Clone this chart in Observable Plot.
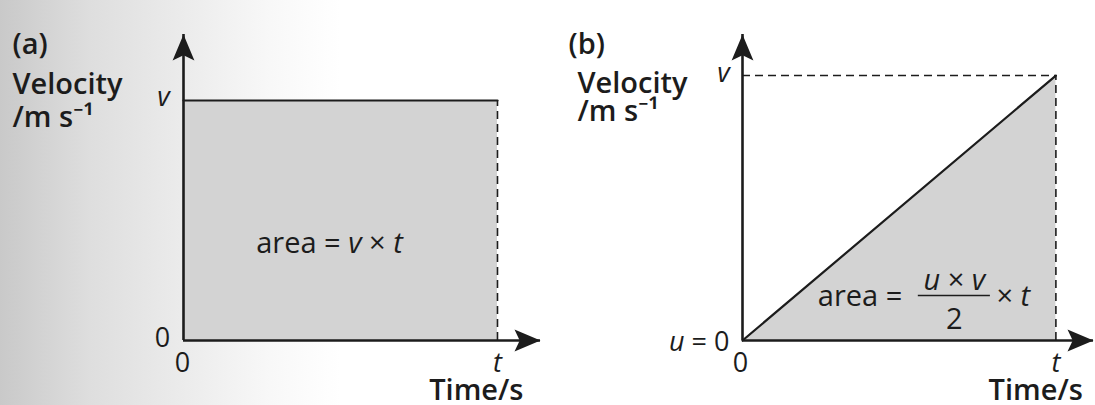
<!DOCTYPE html>
<html>
<head>
<meta charset="utf-8">
<script src="https://cdn.jsdelivr.net/npm/d3@7"></script>
<script src="https://cdn.jsdelivr.net/npm/@observablehq/plot@0.6"></script>
<style>
  html, body { margin: 0; padding: 0; }
  body {
    width: 1095px; height: 405px; overflow: hidden;
    background: linear-gradient(to right, #c9c9c9 0px, #dedede 90px, #ebebeb 180px, #f8f8f8 270px, #ffffff 340px);
  }
  #chart { position: relative; width: 1095px; height: 405px; }
  #chart svg { position: absolute; top: 0; background: transparent; overflow: visible; }
</style>
</head>
<body>
<div id="chart"></div>
<script>
// Panel (a): constant velocity v held from time 0 to t
const timeA = [0, 1];
const velocityA = [1, 1];
// Panel (b): uniform acceleration from u = 0 up to v at time t
const timeB = [0, 1];
const velocityB = [0, 1];
// How far each axis runs (in units of t and v) before its arrowhead
const axisEndA = {time: 1.137, velocity: 1.275};
const axisEndB = {time: 1.12, velocity: 1.155};
// Tick and axis labels (*…* marks italic symbols)
const originLabel = "0";
const timeTick = "*t*";
const velocityTick = "*v*";
const startLabel = "*u* = 0";
const panelLabels = ["(a)", "(b)"];
const yTitle = ["Velocity", "/m s⁻¹"];
const xTitle = "Time/s";
const areaLabelA = "area = *v* × *t*";
const areaLabelB = {before: "area =", numerator: "*u* × *v*", denominator: "2", after: "× *t*"};

const ink = "#1c1c1c";
const shade = "#d3d3d3";
const font = "'Open Sans', 'Noto Sans', sans-serif";
const tickSize = 27;
const titleSize = 29;
const noteSize = 29;

const rowsA = timeA.map((t, i) => ({time: t, velocity: velocityA[i]}));
const rowsB = timeB.map((t, i) => ({time: t, velocity: velocityB[i]}));

// Filled, notched arrowhead with its tip at the origin, pointing up
const arrowHead = {
  draw(context, size) {
    const r = Math.sqrt(size / Math.PI);
    context.moveTo(0, 0);
    context.lineTo(-0.42 * r, r);
    context.lineTo(0, 0.8 * r);
    context.lineTo(0.42 * r, r);
    context.closePath();
  }
};

const txt = (data, o) => Plot.text(data, {fill: ink, fontFamily: font, fontSize: tickSize, ...o});

function axes(end) {
  return [
    Plot.ruleY([0], {x1: 0, x2: end.time, stroke: ink, strokeWidth: 2.6}),
    Plot.ruleX([0], {y1: 0, y2: end.velocity, stroke: ink, strokeWidth: 2.6}),
    Plot.dot([end.time], {x: d => d, y: 0, symbol: arrowHead, r: 26, fill: ink, rotate: 90}),
    Plot.dot([end.velocity], {x: 0, y: d => d, symbol: arrowHead, r: 26, fill: ink})
  ];
}

function titles(label, offsets) {
  const [p, v, u] = offsets;
  const bold = {frameAnchor: "top-left", textAnchor: "start", fontSize: titleSize, fontWeight: 600, lineHeight: 1};
  return [
    txt([label], {...bold, text: d => d, dx: p[0], dy: p[1]}),
    txt([yTitle[0]], {...bold, text: d => d, dx: v[0], dy: v[1]}),
    txt([yTitle[1]], {...bold, text: d => d, dx: u[0], dy: u[1]})
  ];
}

// Turn *…* segments of every label into italic tspans
function italicize(svg) {
  for (const t of svg.querySelectorAll("text")) {
    const s = t.textContent;
    if (!s.includes("*")) continue;
    t.textContent = "";
    s.split("*").forEach((part, i) => {
      if (!part) return;
      const span = document.createElementNS("http://www.w3.org/2000/svg", "tspan");
      span.textContent = part;
      if (i % 2 === 1) span.setAttribute("font-style", "italic");
      t.appendChild(span);
    });
  }
  return svg;
}

const common = {height: 405, marginTop: 34, marginBottom: 65};

// (a) constant velocity: rectangle under the line
const chartA = Plot.plot({
  ...common,
  width: 548, marginLeft: 183, marginRight: 8,
  x: {axis: null, domain: [0, axisEndA.time]},
  y: {axis: null, domain: [0, axisEndA.velocity]},
  marks: [
    Plot.areaY(rowsA, {x: "time", y: "velocity", fill: shade}),
    Plot.ruleX(rowsA.slice(-1), {x: "time", y1: 0, y2: "velocity", stroke: ink, strokeWidth: 1.6, strokeDasharray: "8,5"}),
    Plot.lineY(rowsA, {x: "time", y: "velocity", stroke: ink, strokeWidth: 2.2}),
    ...axes(axisEndA),
    txt([0], {x: 0, y: 0, text: () => originLabel, dx: -21, dy: -2}),
    txt([0], {x: 0, y: 0, text: () => originLabel, dx: -1, dy: 23}),
    txt(rowsA.slice(-1), {x: 0, y: "velocity", text: () => velocityTick, dx: -20, dy: -3}),
    txt(rowsA.slice(-1), {x: "time", y: 0, text: () => timeTick, dy: 23}),
    txt(rowsA.slice(-1), {x: "time", y: 0, text: () => xTitle, textAnchor: "end", dx: 26, dy: 50, fontSize: titleSize, fontWeight: 600}),
    txt([areaLabelA], {x: 0.465, y: 0.4025, text: d => d, fontSize: noteSize}),
    ...titles(panelLabels[0], [[-171, -1], [-171, 39], [-171, 72]])
  ]
});

// (b) uniform acceleration: triangle under the sloping line
const fracAt = {time: 0.676, velocity: 0.17, half: 0.115};
const chartB = Plot.plot({
  ...common,
  width: 547, marginLeft: 194, marginRight: 2,
  x: {axis: null, domain: [0, axisEndB.time]},
  y: {axis: null, domain: [0, axisEndB.velocity]},
  marks: [
    Plot.areaY(rowsB, {x: "time", y: "velocity", fill: shade}),
    Plot.ruleX(rowsB.slice(-1), {x: "time", y1: 0, y2: "velocity", stroke: ink, strokeWidth: 1.6, strokeDasharray: "8,5"}),
    Plot.ruleY(rowsB.slice(-1), {y: "velocity", x1: 0, x2: "time", stroke: ink, strokeWidth: 1.6, strokeDasharray: "8,5"}),
    Plot.lineY(rowsB, {x: "time", y: "velocity", stroke: ink, strokeWidth: 2.2}),
    ...axes(axisEndB),
    txt([0], {x: 0, y: 0, text: () => startLabel, textAnchor: "end", dx: -13, dy: 2}),
    txt([0], {x: 0, y: 0, text: () => originLabel, dx: -2, dy: 23}),
    txt(rowsB.slice(-1), {x: 0, y: "velocity", text: () => velocityTick, dx: -19, dy: -2}),
    txt(rowsB.slice(-1), {x: "time", y: 0, text: () => timeTick, dy: 23}),
    txt(rowsB.slice(-1), {x: "time", y: 0, text: () => xTitle, textAnchor: "end", dx: 27, dy: 50, fontSize: titleSize, fontWeight: 600}),
    Plot.ruleY([fracAt], {y: "velocity", x1: d => d.time - d.half, x2: d => d.time + d.half, stroke: ink, strokeWidth: 1.6}),
    txt([fracAt], {x: d => d.time - d.half, y: "velocity", text: () => areaLabelB.before, textAnchor: "end", dx: -16, dy: 1, fontSize: noteSize}),
    txt([fracAt], {x: "time", y: "velocity", text: () => areaLabelB.numerator, dy: -15, fontSize: noteSize}),
    txt([fracAt], {x: "time", y: "velocity", text: () => areaLabelB.denominator, dy: 24, fontSize: noteSize}),
    txt([fracAt], {x: d => d.time + d.half, y: "velocity", text: () => areaLabelB.after, textAnchor: "start", dx: 6, dy: 1, fontSize: noteSize}),
    ...titles(panelLabels[1], [[-174, -1], [-165, 38], [-165, 66]])
  ]
});

const chart = document.getElementById("chart");
chartA.style.left = "0px";
chartB.style.left = "548px";
chart.append(italicize(chartA), italicize(chartB));
</script>
</body>
</html>
